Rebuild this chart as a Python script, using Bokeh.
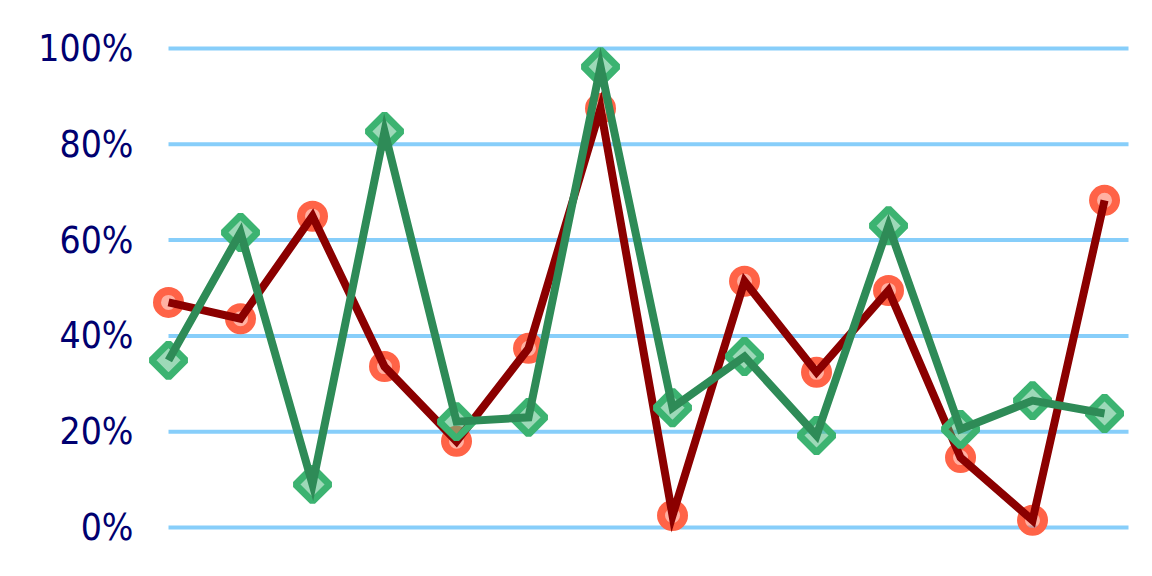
from bokeh.plotting import figure
from bokeh.models import Range1d, NumeralTickFormatter, FixedTicker, ColumnDataSource
from bokeh.embed import file_html
from bokeh.resources import INLINE
import numpy as np

# ---- data ----
categories = list(range(14))
series_red = [0.47, 0.436, 0.65, 0.336, 0.18, 0.374, 0.875, 0.025, 0.514, 0.324, 0.495, 0.146, 0.015, 0.683]
series_green = [0.349, 0.616, 0.09, 0.827, 0.221, 0.23, 0.962, 0.25, 0.357, 0.192, 0.63, 0.205, 0.265, 0.238]
y_ticks = [0, 0.2, 0.4, 0.6, 0.8, 1.0]

n = len(categories)
p = figure(width=1144, height=568, output_backend="svg", toolbar_location=None,
           x_range=Range1d(-0.389, n - 1 + 0.444), y_range=Range1d(-0.0438, 1.0585),
           min_border_left=140, min_border_right=8, min_border_top=20, min_border_bottom=20)
p.outline_line_color = None
p.xgrid.visible = False
p.ygrid.visible = False
p.xaxis.visible = False

ax = p.yaxis[0]
ax.ticker = FixedTicker(ticks=y_ticks)
ax.formatter = NumeralTickFormatter(format="0%")
ax.axis_line_color = None
ax.major_tick_line_color = None
ax.minor_tick_line_color = None
ax.major_tick_in = 0
ax.major_tick_out = 0
ax.major_label_standoff = 7
ax.major_label_text_font = "DejaVu Sans Condensed"
ax.major_label_text_font_size = "37px"
ax.major_label_text_color = "#000070"

# grid lines spanning from first category to a bit past the last
grid_src = ColumnDataSource(dict(x0=[categories[0]] * len(y_ticks),
                                 x1=[categories[-1] + 0.333] * len(y_ticks),
                                 y=y_ticks))
p.segment(x0="x0", x1="x1", y0="y", y1="y", source=grid_src,
          line_color="#87CEFA", line_width=4)

src = ColumnDataSource(dict(x=categories, r=series_red, g=series_green))

p.scatter("x", "r", source=src, marker="circle", size=23,
          fill_color="#FF6347", fill_alpha=0.5, line_color="#FF6347", line_width=8)
p.line("x", "r", source=src, line_color="#8B0000", line_width=8, line_join="miter")
p.scatter("x", "g", source=src, marker="square", angle=np.pi / 4, size=24,
          fill_color="#3CB371", fill_alpha=0.5, line_color="#3CB371", line_width=7)
p.line("x", "g", source=src, line_color="#2E8B57", line_width=8, line_join="miter")

open("out.html", "w").write(file_html(p, INLINE))
